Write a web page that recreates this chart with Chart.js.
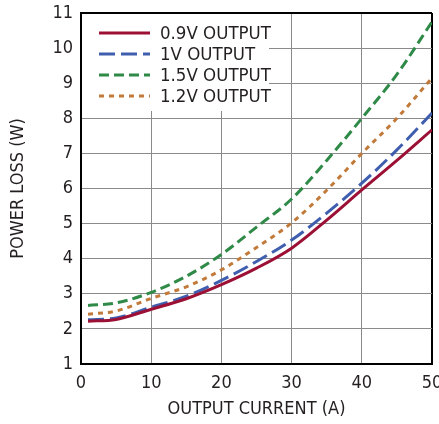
<!DOCTYPE html>
<html>
<head>
<meta charset="utf-8">
<script src="https://cdn.jsdelivr.net/npm/chart.js@4.4.1/dist/chart.umd.min.js"></script>
<style>
  html, body { margin: 0; padding: 0; background: #fff; }
  #wrap { width: 439px; height: 424px; }
</style>
</head>
<body>
<div id="wrap"><canvas id="chart" width="439" height="424"></canvas></div>
<script>
// values
const currentA = [1, 5, 10, 15, 20, 25, 30, 35, 40, 45, 50];
const loss09V = [2.22, 2.27, 2.56, 2.86, 3.26, 3.73, 4.30, 5.10, 5.96, 6.80, 7.67];
const loss1V  = [2.26, 2.31, 2.62, 2.93, 3.38, 3.92, 4.53, 5.30, 6.15, 7.10, 8.15];
const loss15V = [2.67, 2.74, 3.04, 3.50, 4.12, 4.90, 5.70, 6.80, 8.00, 9.25, 10.75];
const loss12V = [2.42, 2.51, 2.87, 3.20, 3.68, 4.32, 5.02, 5.95, 7.00, 8.00, 9.15];
const seriesLabels = ["0.9V OUTPUT", "1V OUTPUT", "1.5V OUTPUT", "1.2V OUTPUT"];

const FONT = "'Liberation Sans Narrow', 'DejaVu Sans Condensed', 'Liberation Sans', sans-serif";
const TEXT = "#231f20";
const GRID = "#8a8a8a";

function pts(ys) { return currentA.map((x, i) => ({ x, y: ys[i] })); }

function line(label, ys, color, dash) {
  return {
    label, data: pts(ys),
    borderColor: color, backgroundColor: color,
    borderWidth: 3, borderDash: dash,
    pointRadius: 0, cubicInterpolationMode: "monotone",
  };
}

// legend sits on a white patch over the grid, top-left of the plot
const boxLegend = {
  id: "boxLegend",
  afterDatasetsDraw(chart) {
    const { ctx, chartArea: a } = chart;
    ctx.save();
    ctx.fillStyle = "#fff";
    ctx.fillRect(a.left + 1, a.top + 1, 268 - a.left, 110 - a.top);
    const rows = [33, 54, 75, 96];
    chart.data.datasets.forEach((ds, i) => {
      const y = rows[i];
      ctx.strokeStyle = ds.borderColor;
      ctx.lineWidth = 3;
      ctx.setLineDash(ds.borderDash || []);
      ctx.beginPath();
      ctx.moveTo(99, y);
      ctx.lineTo(150, y);
      ctx.stroke();
      ctx.setLineDash([]);
      ctx.fillStyle = TEXT;
      ctx.font = "18.5px " + FONT;
      ctx.textBaseline = "middle";
      ctx.fillText(ds.label, 160, y + 1);
    });
    ctx.restore();
  },
};

new Chart(document.getElementById("chart"), {
  type: "line",
  data: {
    datasets: [
      line(seriesLabels[0], loss09V, "#9b1034", []),
      line(seriesLabels[1], loss1V, "#3f5fae", [16, 6]),
      line(seriesLabels[2], loss15V, "#2f8a48", [10, 5]),
      line(seriesLabels[3], loss12V, "#c27a3a", [5, 5]),
    ],
  },
  options: {
    responsive: false,
    animation: false,
    layout: { padding: { left: 0, right: 7, top: 13, bottom: 0 } },
    plugins: { legend: { display: false }, tooltip: { enabled: false } },
    scales: {
      x: {
        type: "linear", min: 0, max: 50,
        afterFit: s => { s.height = 60; s.paddingLeft = 0; s.paddingRight = 0; },
        ticks: { stepSize: 10, padding: 9, color: TEXT, font: { family: FONT, size: 18 } },
        grid: {
          drawTicks: false,
          color: c => (c.tick && c.tick.value === 50 ? "#000" : GRID),
          lineWidth: c => (c.tick && c.tick.value === 50 ? 2 : 1),
        },
        border: { color: "#000", width: 2 },
        title: {
          display: true, text: "OUTPUT CURRENT (A)", color: TEXT,
          font: { family: FONT, size: 18 }, padding: { top: 0, bottom: 4 },
        },
      },
      y: {
        type: "linear", min: 1, max: 11,
        afterFit: s => { s.width = 81; s.paddingTop = 0; s.paddingBottom = 0; },
        ticks: { stepSize: 1, padding: 8, color: TEXT, font: { family: FONT, size: 18 } },
        grid: {
          drawTicks: false,
          color: c => (c.tick && c.tick.value === 11 ? "#000" : GRID),
          lineWidth: c => (c.tick && c.tick.value === 11 ? 2 : 1),
        },
        border: { color: "#000", width: 2 },
        title: {
          display: true, text: "POWER LOSS (W)", color: TEXT,
          font: { family: FONT, size: 18 }, padding: { top: 8, bottom: 0 },
        },
      },
    },
  },
  plugins: [boxLegend],
});
</script>
</body>
</html>
